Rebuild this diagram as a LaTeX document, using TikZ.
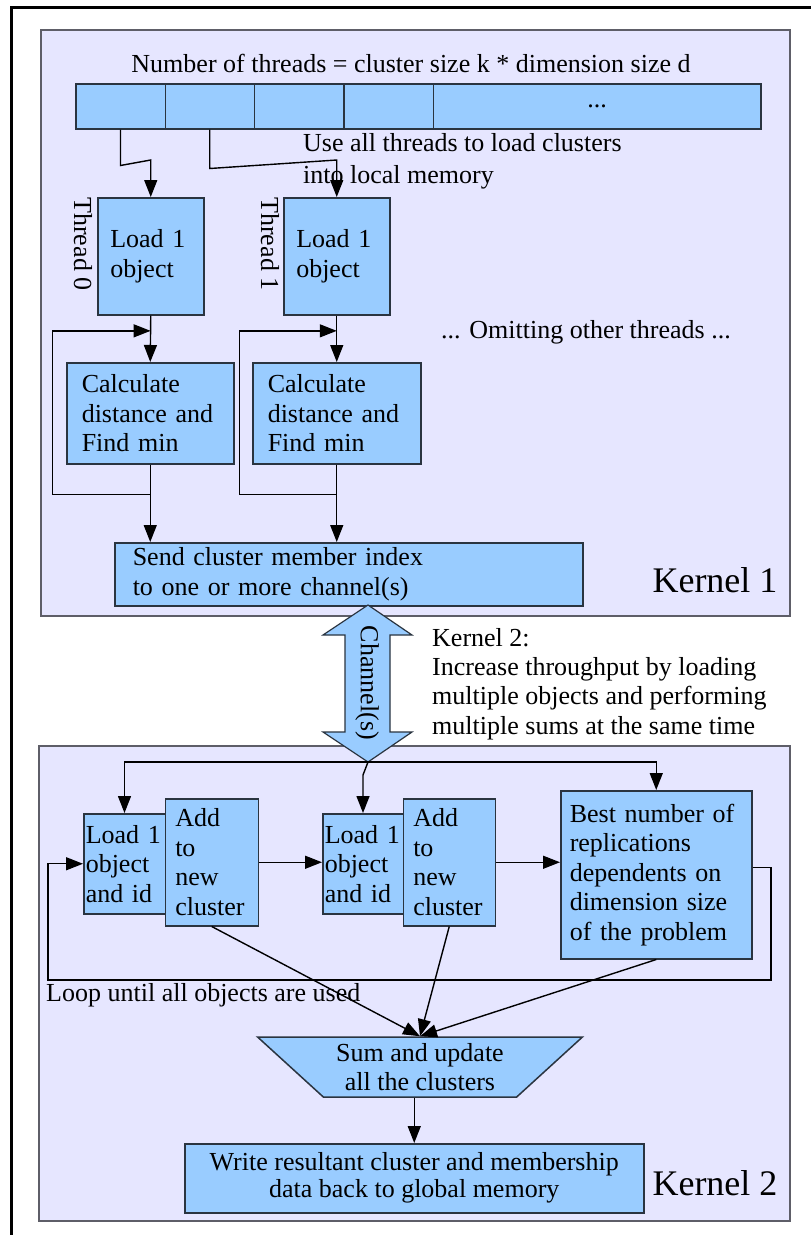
\documentclass[tikz,border=0pt]{standalone}
\usepackage{fontspec}
\setmainfont{Liberation Serif}
\newfontfamily\diagfont{Liberation Serif}
\usetikzlibrary{arrows.meta,calc,shapes.geometric}
\definecolor{boxblue}{HTML}{99CCFF}
\definecolor{kernelfill}{HTML}{E6E6FF}
\definecolor{boxline}{HTML}{2A3440}
\definecolor{kernelline}{HTML}{5E5E68}

\begin{document}
\begin{tikzpicture}[x=1pt,y=-1pt,
  every node/.style={font=\diagfont\fontsize{26}{29.5}\selectfont, inner sep=0pt},
  kernel/.style={draw=kernelline, fill=kernelfill, line width=1.8pt, anchor=north west},
  blk/.style={draw=boxline, fill=boxblue, line width=1.5pt, anchor=north west, align=left},
  biglabel/.style={font=\diagfont\fontsize{36}{40}\selectfont},
  conn/.style={line width=1.4pt, -{Triangle[length=17pt,width=13pt]}},
  chan/.style={draw=boxline, fill=boxblue, line width=1.2pt}]

% page background and fixed frame
\fill[white] (0,0) rectangle (811,1235);
\useasboundingbox (0,0) rectangle (811,1235);
\draw[line width=3pt] (11,1235) -- (11,7) -- (811,7);

% ---------------- Kernel 1 ----------------
\node[kernel, minimum width=749pt, minimum height=586pt] (k1) at (40,29) {};

\node (title) at (411,63) {Number of threads = cluster size k * dimension size d};

% thread array
\node[blk, minimum width=89.5pt, minimum height=45pt] (c1) at (75,83) {};
\node[blk, minimum width=89pt, minimum height=45pt] (c2) at (164.5,83) {};
\node[blk, minimum width=89.5pt, minimum height=45pt] (c3) at (253.5,83) {};
\node[blk, minimum width=89.5pt, minimum height=45pt] (c4) at (343,83) {};
\node[blk, minimum width=327.5pt, minimum height=45pt] (c5) at (432.5,83) {...};

\node[anchor=west, align=left, font=\diagfont\fontsize{26}{32}\selectfont] (use) at (303,161)
  {Use all threads to load clusters\\into local memory};

% per-thread work
\node[blk, minimum width=106pt, minimum height=117pt, text width=81pt, inner xsep=12pt] (ld0) at (97,197) {Load 1\\object};
\node[blk, minimum width=106pt, minimum height=117pt, text width=81pt, inner xsep=12pt] (ld1) at (283,197) {Load 1\\object};
\node[rotate=-90] (th0) at (83,244) {Thread 0};
\node[rotate=-90] (th1) at (270,244) {Thread 1};

\node[blk, minimum width=167pt, minimum height=101pt, text width=137pt, inner xsep=15pt] (calc0) at (66,362) {Calculate\\distance and\\Find min};
\node[blk, minimum width=168pt, minimum height=101pt, text width=138pt, inner xsep=15pt] (calc1) at (252,362) {Calculate\\distance and\\Find min};

\node (omit) at (586,332) {... Omitting other threads ...};

\node[blk, minimum width=468pt, minimum height=63pt, text width=432pt, inner xsep=18pt] (send) at (114,542) {Send cluster member index\\to one or more channel(s)};

\node[biglabel] (k1lab) at (715,580) {Kernel 1};

% connectors of kernel 1
\draw[conn] (c1.south) -- ++(0,36) -- ($(ld0.north)+(0,-37)$) -- (ld0.north);
\draw[conn] (c2.south) -- ++(0,39) -- ($(ld1.north)+(0,-37)$) -- (ld1.north);

\coordinate (j0) at ($(ld0.south)!0.33!(calc0.north)$);
\coordinate (j1) at ($(ld1.south)!0.33!(calc1.north)$);
\draw[conn] (ld0.south) -- (calc0.north);
\draw[conn] (ld1.south) -- (calc1.north);
\draw[conn] (calc0.south) -- ++(0,30) -- ++(-98,0) |- (j0);
\draw[conn] (calc1.south) -- ++(0,30) -- ++(-97,0) |- (j1);
\draw[conn] (calc0.south) -- (calc0.south |- send.north);
\draw[conn] (calc1.south) -- (calc1.south |- send.north);

% ---------------- Kernel 2 ----------------
\node[kernel, minimum width=751pt, minimum height=475pt] (k2) at (38,745) {};

% channel between the kernels
\coordinate (chtop) at (368,605);
\coordinate (chtip) at (368,762);
\draw[chan] (chtop) -- (412,635) -- (390,635) -- (390,732) -- (412,732) -- (chtip)
  -- (323,732) -- (345,732) -- (345,635) -- (323,635) -- cycle;
\node[rotate=-90] (chlab) at (367,683) {Channel(s)};

\node[anchor=west, align=left, font=\diagfont\fontsize{26}{29.3}\selectfont] (k2note) at (432,684)
  {Kernel 2:\\Increase throughput by loading\\multiple objects and performing\\multiple sums at the same time};

% replicated load / add pairs
\node[blk, minimum width=81.5pt, minimum height=100pt, text width=77.5pt, inner xsep=2pt] (l1) at (83,813) {Load 1\\object\\and id};
\node[blk, minimum width=93pt, minimum height=127pt, text width=73pt, inner xsep=10pt] (a1) at (164.5,798) {Add\\to\\new\\cluster};
\node[blk, minimum width=80.5pt, minimum height=100pt, text width=76.5pt, inner xsep=2pt] (l2) at (322,813) {Load 1\\object\\and id};
\node[blk, minimum width=92pt, minimum height=127pt, text width=72pt, inner xsep=10pt] (a2) at (402.5,798) {Add\\to\\new\\cluster};
\node[blk, minimum width=191pt, minimum height=168pt, text width=173pt, inner xsep=9pt] (best) at (560,790)
  {Best number of\\replications\\dependents on\\dimension size\\of the problem};

\node[anchor=west] (looplab) at (46,995) {Loop until all objects are used};

\node[draw=boxline, fill=boxblue, line width=1.5pt, trapezium, trapezium stretches=true,
  shape border rotate=180, trapezium left angle=40, trapezium right angle=40,
  minimum width=326pt, minimum height=60pt, align=center] (sum) at (420,1067)
  {Sum and update\\all the clusters};

\node[blk, align=center, minimum width=459pt, minimum height=69pt, font=\diagfont\fontsize{26}{27}\selectfont] (write) at (184,1143)
  {Write resultant cluster and membership\\data back to global memory};

\node[biglabel] (k2lab) at (715,1183) {Kernel 2};

% connectors of kernel 2
\draw[conn] (chtip) -| (l1.north);
\draw[conn] (chtip) -| (best.north);
\draw[conn] (chtip) -- ($(l2.north)+(0,-38)$) -- (l2.north);
\draw[conn] (a1.east) -- (a1.east -| l2.west);
\draw[conn] (a2.east) -- (a2.east -| best.west);

\coordinate (lpR) at (771,980);
\coordinate (lpL) at (48,980);
\draw[conn] ($(best.east)+(0,-7)$) -| (lpR) -- (lpL) |- (l1.west);

\draw[conn] (a1.south) -- (sum.north);
\draw[conn] (a2.south) -- (sum.north);
\draw[conn] (best.south) -- (sum.north);
\draw[conn] (write.north |- sum.south) -- (write.north);
\end{tikzpicture}
\end{document}
